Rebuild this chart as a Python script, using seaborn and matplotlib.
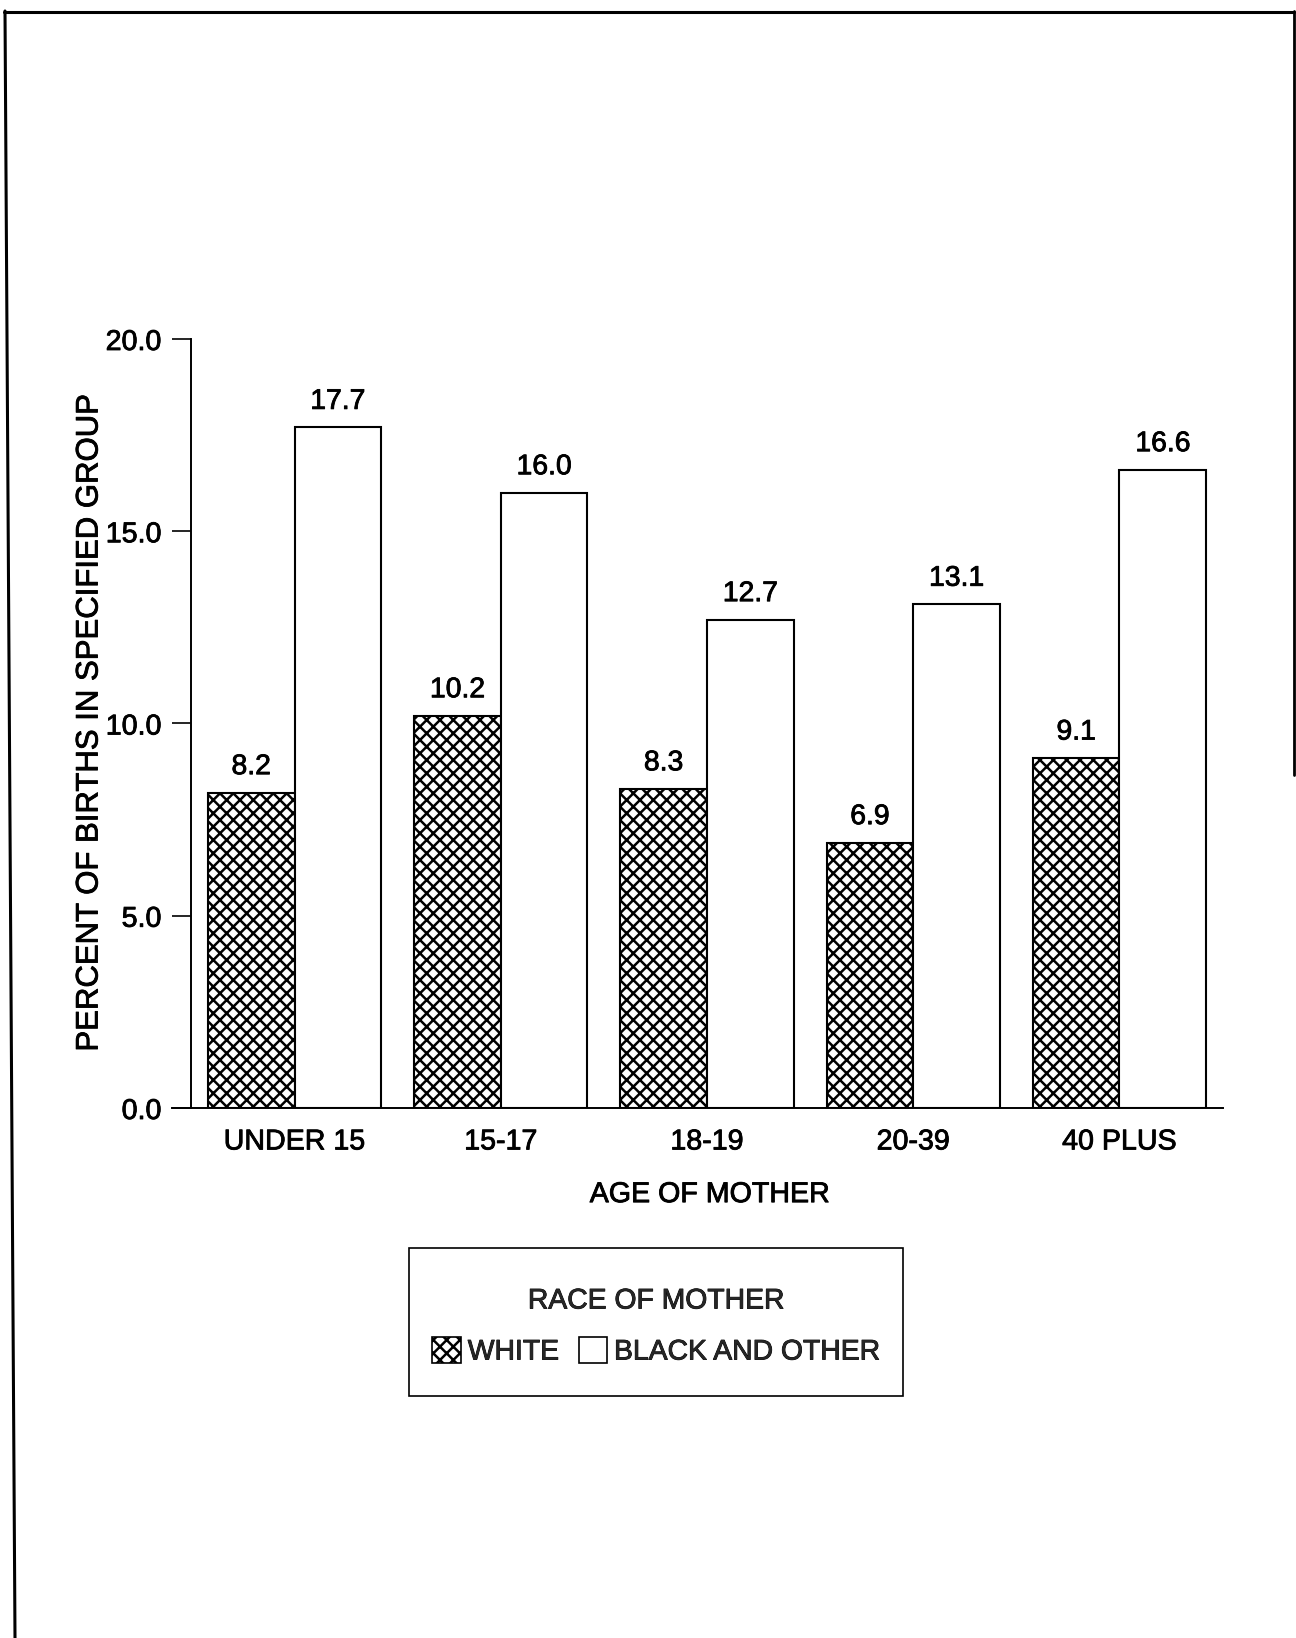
import matplotlib
matplotlib.use("Agg")
import matplotlib.pyplot as plt
import matplotlib.patheffects as pe
from matplotlib.lines import Line2D
from matplotlib.patches import Patch, Rectangle
import pandas as pd
import seaborn as sns

# Percent of births in specified group, by age and race of mother
ages = ["UNDER 15", "15-17", "18-19", "20-39", "40 PLUS"]
races = ["WHITE", "BLACK AND OTHER"]
white_pct = [8.2, 10.2, 8.3, 6.9, 9.1]
black_other_pct = [17.7, 16.0, 12.7, 13.1, 16.6]
y_ticks = [0.0, 5.0, 10.0, 15.0, 20.0]

df = pd.DataFrame({
    "age": ages * 2,
    "race": [races[0]] * len(ages) + [races[1]] * len(ages),
    "pct": white_pct + black_other_pct,
})

sns.set_theme(style="white")
plt.rcParams["font.family"] = ["Liberation Sans", "DejaVu Sans"]
plt.rcParams["hatch.linewidth"] = 0.9
plt.rcParams["hatch.color"] = "black"

# slightly heavier strokes for all text
heavy = [pe.withStroke(linewidth=0.3, foreground="black")]

W, H, DPI = 1296, 1638, 200
fig = plt.figure(figsize=(W / DPI, H / DPI), dpi=DPI, facecolor="white")
ax = fig.add_axes([172 / W, 1 - 1108 / H, 1050.6 / W, 769 / H])

sns.barplot(
    data=df, x="age", y="pct", hue="race", order=ages, hue_order=races,
    palette=["white", "white"], edgecolor="black", linewidth=0.75,
    width=0.84, saturation=1, legend=False, ax=ax,
)

# crosshatch for the first race group
for bar in ax.containers[0]:
    bar.set_hatch("xxxxx")

# value labels above each bar
for cont in ax.containers:
    for bar in cont:
        h = bar.get_height()
        ax.annotate(f"{h:.1f}", (bar.get_x() + bar.get_width() / 2, h),
                    xytext=(0, 9.2), textcoords="offset points",
                    ha="center", va="center", fontsize=10.2, color="black",
                    path_effects=heavy)

ax.set_xlim(-0.594, 4.5)
ax.set_ylim(0, 20)
ax.set_yticks(y_ticks)
ax.set_yticklabels([f"{v:.1f}" for v in y_ticks])

for side in ("top", "right"):
    ax.spines[side].set_visible(False)
ax.spines["left"].set_position(("data", -0.5))
for side in ("left", "bottom"):
    ax.spines[side].set_color("black")
    ax.spines[side].set_linewidth(0.7)

ax.tick_params(axis="y", direction="out", length=6.8, width=0.6,
               color="black", pad=4, labelsize=10.3, labelcolor="black", left=True)
ax.tick_params(axis="x", length=0, pad=7, labelsize=10.3, labelcolor="black")
for lbl in ax.get_xticklabels() + ax.get_yticklabels():
    lbl.set_path_effects(heavy)

ax.set_xlabel("AGE OF MOTHER", fontsize=10.3, color="black", path_effects=heavy)
ax.set_ylabel("PERCENT OF BIRTHS IN SPECIFIED GROUP", fontsize=11.2, color="black",
              path_effects=heavy)
ax.xaxis.set_label_coords(0.512, -0.112)
ax.xaxis.label.set_va("center")
ax.yaxis.set_label_coords(-0.0785, 0.5)
ax.yaxis.label.set_va("center")

# legend with its own box
handles = [
    Patch(facecolor="white", edgecolor="black", hatch="xxxxx", linewidth=0.6, label=races[0]),
    Patch(facecolor="white", edgecolor="black", linewidth=0.6, label=races[1]),
]
leg = fig.legend(
    handles=handles, title="RACE OF MOTHER", ncol=2, frameon=False,
    loc="center", bbox_to_anchor=(656 / W, 1 - 1327 / H),
    fontsize=10.2, title_fontsize=10.2, handlelength=1.0, handleheight=1.0,
    handletextpad=0.25, columnspacing=0.7, labelspacing=0.8, borderpad=0.3,
)
for t in leg.get_texts() + [leg.get_title()]:
    t.set_path_effects(heavy)
fig.add_artist(Rectangle((409 / W, 1 - 1396 / H), 494 / W, 148 / H,
                         transform=fig.transFigure, facecolor="none",
                         edgecolor="black", linewidth=0.6))

# page border
def px(x, y):
    return x / W, 1 - y / H

for (x0, y0), (x1, y1), lw in [((4, 11.5), (1294, 11.5), 1.1),
                               ((5, 11), (15, 1638), 1.1),
                               ((1294, 11), (1294, 775), 1.0)]:
    a, b = px(x0, y0)
    c, d = px(x1, y1)
    fig.add_artist(Line2D([a, c], [b, d], transform=fig.transFigure,
                          color="black", linewidth=lw))

fig.savefig("out.png", dpi=DPI, facecolor="white")
